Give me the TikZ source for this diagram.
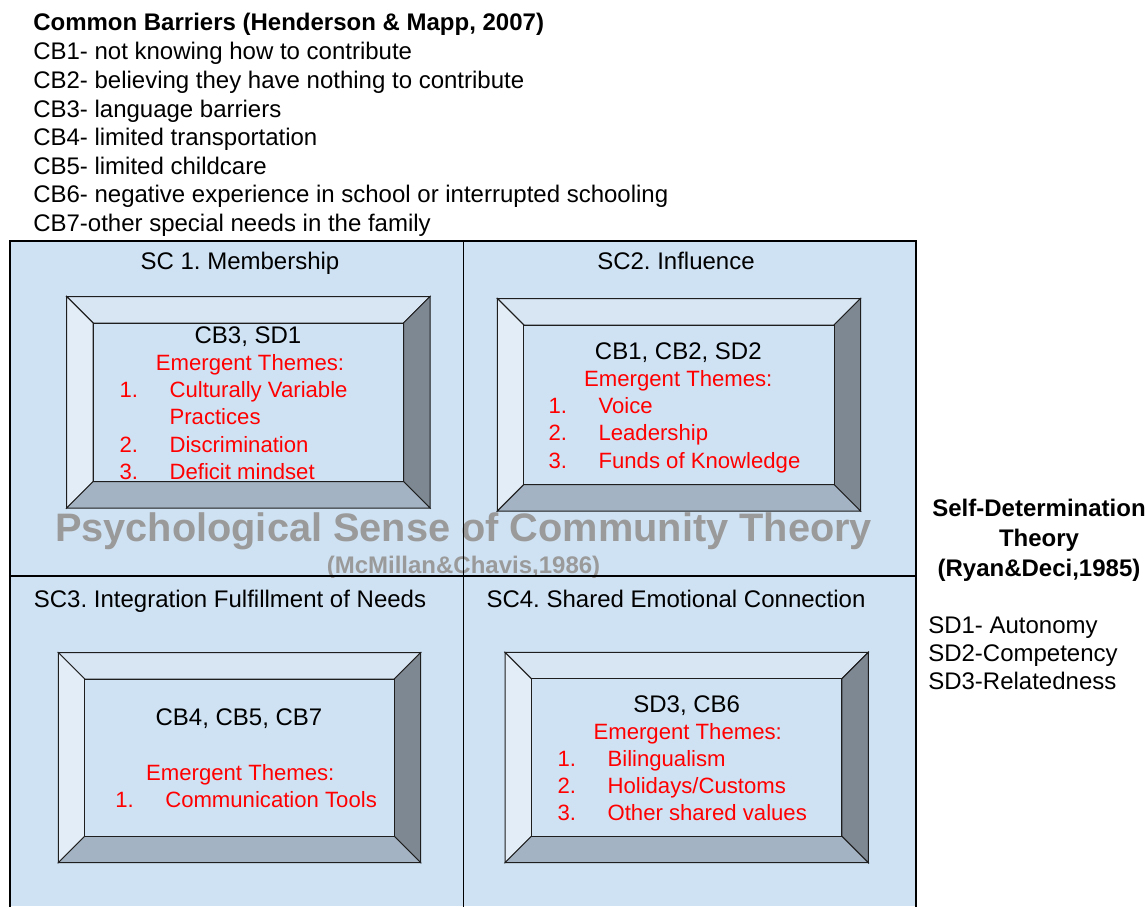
\documentclass[tikz,border=0pt]{standalone}
\usepackage{fontspec}
\setmainfont{Liberation Sans}
\frenchspacing
\definecolor{cellblue}{HTML}{CFE2F3}
\definecolor{facetop}{HTML}{D8E6F4}
\definecolor{faceleft}{HTML}{E3EDF7}
\definecolor{faceright}{HTML}{7E8893}
\definecolor{facebottom}{HTML}{A3B3C3}
\definecolor{edgedark}{HTML}{1E1E1E}
\definecolor{themered}{HTML}{FF0000}
\definecolor{markgray}{HTML}{9A9A9A}
\tikzset{
  txt/.style={inner sep=0pt, font=\fontsize{18pt}{20.4pt}\selectfont},
  bold/.style={txt, font=\fontsize{18pt}{20.4pt}\selectfont\bfseries},
  theme/.style={inner sep=0pt, text=themered, font=\fontsize{16.6pt}{20.4pt}\selectfont},
  theorylabel/.style={inner sep=0pt, text=markgray, font=\fontsize{29.8pt}{34pt}\selectfont\bfseries},
  theoryref/.style={inner sep=0pt, text=markgray, font=\fontsize{18pt}{20.4pt}\selectfont\bfseries},
  grid/.style={draw=black, line width=0.8pt},
  bevel/.style={draw=edgedark, line width=0.75pt, line join=miter}
}
% bevelled frame: outer corners (#1,#2)-(#3,#4), bevel depth #5
\newcommand{\bevelbox}[5]{%
  \filldraw[bevel, fill=facetop] (#1,#2) -- (#3,#2) -- ({#3-#5},{#2+#5}) -- ({#1+#5},{#2+#5}) -- cycle;
  \filldraw[bevel, fill=faceleft] (#1,#2) -- ({#1+#5},{#2+#5}) -- ({#1+#5},{#4-#5}) -- (#1,#4) -- cycle;
  \filldraw[bevel, fill=faceright] (#3,#2) -- (#3,#4) -- ({#3-#5},{#4-#5}) -- ({#3-#5},{#2+#5}) -- cycle;
  \filldraw[bevel, fill=facebottom] (#1,#4) -- (#3,#4) -- ({#3-#5},{#4-#5}) -- ({#1+#5},{#4-#5}) -- cycle;
  \filldraw[bevel, fill=cellblue] ({#1+#5},{#2+#5}) rectangle ({#3-#5},{#4-#5});
}
\begin{document}
\begin{tikzpicture}[x=0.75pt, y=-0.75pt]
\useasboundingbox (0,0) rectangle (1148,906);
\fill[white] (0,0) rectangle (1148,906);

% list of common barriers
\node[bold, anchor=base west] (cbtitle) at (33,30.5) {Common Barriers (Henderson \& Mapp, 2007)};
\node[txt, anchor=base west] (cb1) at (33,60) {CB1- not knowing how to contribute};
\node[txt, anchor=base west] (cb2) at (33,88.5) {CB2- believing they have nothing to contribute};
\node[txt, anchor=base west] (cb3) at (33,117) {CB3- language barriers};
\node[txt, anchor=base west] (cb4) at (33,145.5) {CB4- limited transportation};
\node[txt, anchor=base west] (cb5) at (33,174) {CB5- limited childcare};
\node[txt, anchor=base west] (cb6) at (33,202.5) {CB6- negative experience in school or interrupted schooling};
\node[txt, anchor=base west] (cb7) at (33,231) {CB7-other special needs in the family};

% four sense-of-community cells
\fill[cellblue] (10,241) rectangle (916,906);

% bevelled frames
\bevelbox{66.7}{296.5}{430}{508}{26.5}
\bevelbox{497.3}{298.5}{860.5}{511}{26.5}
\bevelbox{58.3}{652.5}{420.7}{862.7}{26.5}
\bevelbox{505}{652.3}{868.3}{862.7}{26.5}

% theory name across the cells
\node[theorylabel, anchor=base] (pscname) at (463.5,541.5) {Psychological Sense of Community Theory};
\node[theoryref, anchor=base] (pscref) at (463.5,573.5) {(McMillan\&Chavis,1986)};

\draw[grid] (10,907) -- (10,241) -- (916,241) -- (916,907);
\draw[grid] (463.5,241) -- (463.5,907);
\draw[grid] (10,576) -- (916,576);

% cell titles
\node[txt, anchor=base] (sc1) at (240,269) {SC 1. Membership};
\node[txt, anchor=base] (sc2) at (676,269) {SC2. Influence};
\node[txt, anchor=base] (sc3) at (230,607.5) {SC3. Integration Fulfillment of Needs};
\node[txt, anchor=base] (sc4) at (676,607.5) {SC4. Shared Emotional Connection};

% SC1 contents
\node[txt, anchor=base] (m1) at (248,343.5) {CB3, SD1};
\node[theme, anchor=base] (m1t) at (250,370.5) {Emergent Themes:};
\node[theme, anchor=base west] (m1n1) at (119.3,397.7) {1.};
\node[theme, anchor=base west] (m1a) at (169.3,397.7) {Culturally Variable};
\node[theme, anchor=base west] (m1b) at (169.3,424.9) {Practices};
\node[theme, anchor=base west] (m1n2) at (119.3,452.1) {2.};
\node[theme, anchor=base west] (m1c) at (169.3,452.1) {Discrimination};
\node[theme, anchor=base west] (m1n3) at (119.3,479.3) {3.};
\node[theme, anchor=base west] (m1d) at (169.3,479.3) {Deficit mindset};

% SC2 contents
\node[txt, anchor=base] (m2) at (678.3,359) {CB1, CB2, SD2};
\node[theme, anchor=base] (m2t) at (678.3,386.2) {Emergent Themes:};
\node[theme, anchor=base west] (m2n1) at (548.3,413.5) {1.};
\node[theme, anchor=base west] (m2a) at (598.3,413.5) {Voice};
\node[theme, anchor=base west] (m2n2) at (548.3,440.8) {2.};
\node[theme, anchor=base west] (m2b) at (598.3,440.8) {Leadership};
\node[theme, anchor=base west] (m2n3) at (548.3,468.1) {3.};
\node[theme, anchor=base west] (m2c) at (598.3,468.1) {Funds of Knowledge};

% SC3 contents
\node[txt, anchor=base] (m3) at (239,725.5) {CB4, CB5, CB7};
\node[theme, anchor=base] (m3t) at (240.3,780) {Emergent Themes:};
\node[theme, anchor=base west] (m3n1) at (115,807.2) {1.};
\node[theme, anchor=base west] (m3a) at (165,807.2) {Communication Tools};

% SC4 contents
\node[txt, anchor=base] (m4) at (686.7,712.3) {SD3, CB6};
\node[theme, anchor=base] (m4t) at (687.7,739.4) {Emergent Themes:};
\node[theme, anchor=base west] (m4n1) at (557.3,766.5) {1.};
\node[theme, anchor=base west] (m4a) at (607.3,766.5) {Bilingualism};
\node[theme, anchor=base west] (m4n2) at (557.3,793.6) {2.};
\node[theme, anchor=base west] (m4b) at (607.3,793.6) {Holidays/Customs};
\node[theme, anchor=base west] (m4n3) at (557.3,820.7) {3.};
\node[theme, anchor=base west] (m4c) at (607.3,820.7) {Other shared values};

% self-determination theory key
\node[bold, anchor=base] (sdt1) at (1039,516.5) {Self-Determination};
\node[bold, anchor=base] (sdt2) at (1039,546.5) {Theory};
\node[bold, anchor=base] (sdt3) at (1039,576.5) {(Ryan\&Deci,1985)};
\node[txt, anchor=base west] (sd1) at (928,633) {SD1- Autonomy};
\node[txt, anchor=base west] (sd2) at (928,661.3) {SD2-Competency};
\node[txt, anchor=base west] (sd3) at (928,689.6) {SD3-Relatedness};
\end{tikzpicture}
\end{document}
